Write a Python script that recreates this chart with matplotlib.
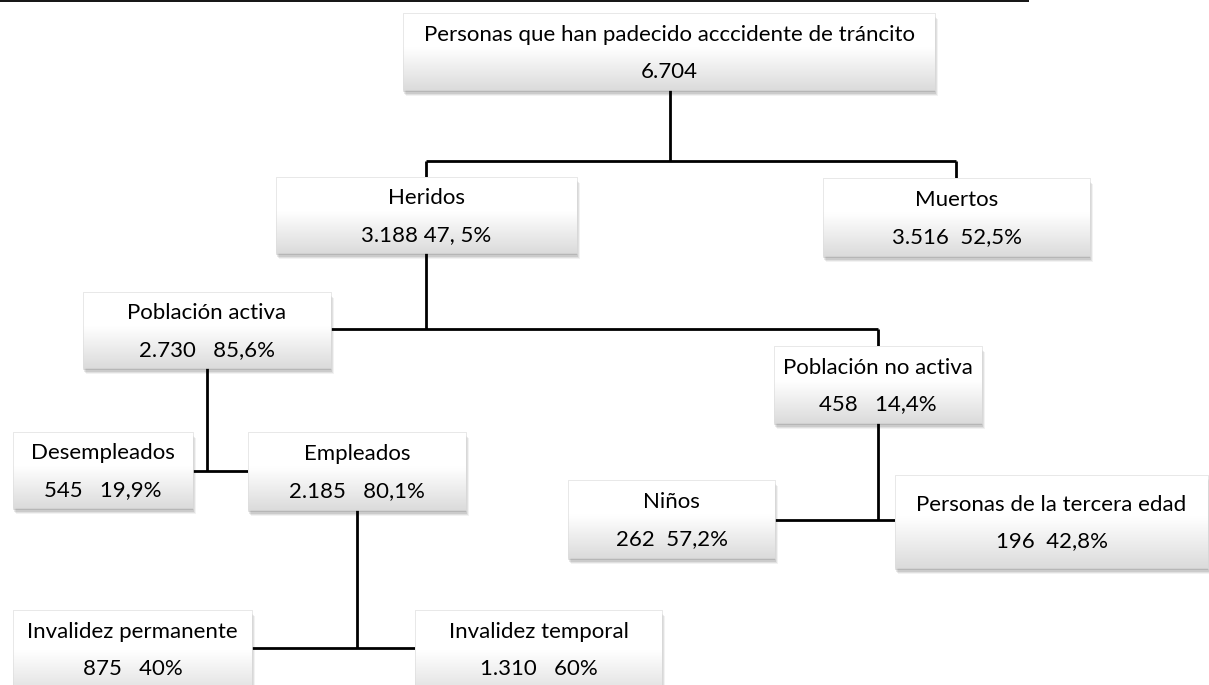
import numpy as np
import matplotlib
matplotlib.use("Agg")
import matplotlib.pyplot as plt
from matplotlib.patches import Rectangle

# ---- data ----
node_ids = ["root", "heridos", "muertos", "activa", "noactiva",
            "desemp", "emple", "ninos", "tercera", "invperm", "invtemp"]
node_names = ["Personas que han padecido acccidente de tráncito", "Heridos", "Muertos",
              "Población activa", "Población no activa", "Desempleados", "Empleados",
              "Niños", "Personas de la tercera edad", "Invalidez permanente",
              "Invalidez temporal"]
node_counts = ["6.704", "3.188", "3.516", "2.730", "458", "545", "2.185",
               "262", "196", "875", "1.310"]
node_pcts = ["", "47, 5%", "52,5%", "85,6%", "14,4%", "19,9%", "80,1%",
             "57,2%", "42,8%", "40%", "60%"]
count_pct_sep = [" ", " ", "  ", "   ", "   ", "   ", "   ", "  ", "  ", "   ", "   "]
parents = {"heridos": "root", "muertos": "root", "activa": "heridos", "noactiva": "heridos",
           "desemp": "activa", "emple": "activa", "ninos": "noactiva", "tercera": "noactiva",
           "invperm": "emple", "invtemp": "emple"}

# ---- layout (pixels: x0, y0, x1, y1) ----
boxes = {
    "root": (403, 13, 935, 90),
    "heridos": (276, 177, 577, 253),
    "muertos": (823, 178, 1090, 256),
    "activa": (83, 292, 331, 368),
    "noactiva": (774, 346, 982, 423),
    "desemp": (13, 432, 193, 508),
    "emple": (248, 432, 466, 510),
    "ninos": (568, 480, 775, 558),
    "tercera": (895, 475, 1208, 568),
    "invperm": (13, 610, 252, 700),
    "invtemp": (415, 610, 662, 700),
}
text_center = {k: (b[1] + b[3]) / 2 for k, b in boxes.items()}
text_center["invperm"] = 649
text_center["invtemp"] = 649

W, H = 1209, 685
fig = plt.figure(figsize=(W / 100, H / 100), dpi=100)
ax = fig.add_axes([0, 0, 1, 1])
ax.set_xlim(0, W)
ax.set_ylim(H, 0)
ax.axis("off")

LW = 2.0
def line(xs, ys, lw=LW):
    ax.plot(xs, ys, color="black", lw=lw, solid_capstyle="butt", zorder=1)

line([0, 1029], [1, 1], lw=1.3)  # top rule
line([670, 670], [90, 161]); line([426, 956], [161, 161])
line([426, 426], [161, 177]); line([956, 956], [161, 178])
line([426, 426], [253, 329]); line([331, 878], [329, 329]); line([878, 878], [329, 346])
line([207, 207], [368, 471]); line([193, 248], [471, 471])
line([878, 878], [423, 520]); line([775, 895], [520, 520])
line([357, 357], [510, 648]); line([252, 415], [648, 648])

# gradient fill
t = np.linspace(0, 1, 100)
g = np.where(t < 0.45, 1.0, 1.0 - 0.14 * ((t - 0.45) / 0.55))[:, None]
g3 = np.dstack([g, g, g])

for i, k in enumerate(node_ids):
    x0, y0, x1, y1 = boxes[k]
    for dx, dy, a in [(4, 6, 0.05), (3, 5, 0.07), (2, 4, 0.09), (1, 2, 0.10)]:
        ax.add_patch(Rectangle((x0 + dx - 1, y0 + dy), x1 - x0, y1 - y0,
                               facecolor="black", alpha=a, edgecolor="none", zorder=2))
    ax.imshow(g3, extent=(x0, x1, y1, y0), origin="upper", aspect="auto",
              interpolation="bilinear", zorder=3)
    ax.add_patch(Rectangle((x0, y0), x1 - x0, y1 - y0, facecolor="none",
                           edgecolor="#dedede", lw=0.5, zorder=4))
    cx = (x0 + x1) / 2
    cy = text_center[k]
    ax.text(cx, cy - 11, node_names[i], ha="center", va="baseline", fontsize=16,
            family="Lato", color="#000000", zorder=5)
    val = node_counts[i] + (count_pct_sep[i] + node_pcts[i] if node_pcts[i] else "")
    ax.text(cx, cy + 26, val, ha="center", va="baseline", fontsize=16,
            family="Lato", color="#000000", zorder=5)

ax.set_xlim(0, W)
ax.set_ylim(H, 0)
fig.savefig("out.png", dpi=100)
